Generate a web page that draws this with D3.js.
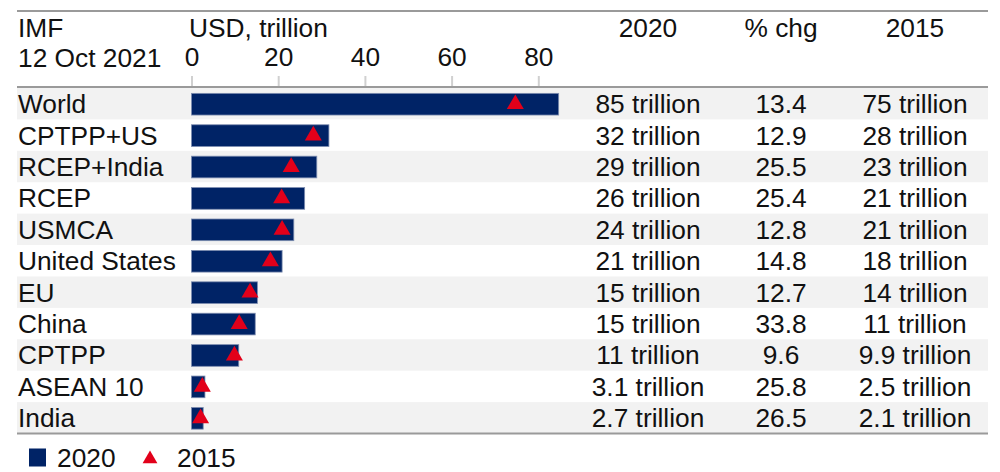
<!DOCTYPE html>
<html><head><meta charset="utf-8">
<script src="https://cdn.jsdelivr.net/npm/d3@7"></script>
<style>
html,body{margin:0;padding:0;background:#fff;}
svg{display:block;font-family:"Liberation Sans",Arial,sans-serif;}
</style></head>
<body><svg id="chart" width="1000" height="472"></svg>
<script>
const categories = ["World","CPTPP+US","RCEP+India","RCEP","USMCA","United States","EU","China","CPTPP","ASEAN 10","India"];
const gdp2020 = [84.7,31.7,28.9,26.1,23.6,20.9,15.2,14.7,10.9,3.1,2.7];
const gdp2015 = [74.7,28.1,23.0,20.8,20.9,18.2,13.5,11.0,9.9,2.5,2.1];
const label2020 = ["85 trillion","32 trillion","29 trillion","26 trillion","24 trillion","21 trillion","15 trillion","15 trillion","11 trillion","3.1 trillion","2.7 trillion"];
const pctChg = [13.4,12.9,25.5,25.4,12.8,14.8,12.7,33.8,9.6,25.8,26.5];
const label2015 = ["75 trillion","28 trillion","23 trillion","21 trillion","21 trillion","18 trillion","14 trillion","11 trillion","9.9 trillion","2.5 trillion","2.1 trillion"];
const axisTicks = [0,20,40,60,80];
const headerSource = ["IMF","12 Oct 2021"];
const unitLabel = "USD, trillion";
const columnHeaders = ["2020","% chg","2015"];
const legendItems = ["2020","2015"];

const NAVY = "#002366", RED = "#e2001a", BAND = "#f2f2f2", RULE = "#9a9a9a";
const FS = 26.3;
const svg = d3.select("#chart");
const left = 17, right = 988;
const rowsTop = 88, rowsBottom = 433.5;

const x = d3.scaleLinear().domain([0,80]).range([191.5,538.3]);
const y = d3.scaleBand().domain(categories).range([rowsTop,rowsBottom]).paddingInner(0).paddingOuter(0);
const colX = [648,781,915];

const data = categories.map((c,i)=>({c,i,v20:gdp2020[i],v15:gdp2015[i],l20:label2020[i],p:pctChg[i],l15:label2015[i]}));

// row bands
svg.append("g").selectAll("rect").data(data.filter(d=>d.i%2===0)).join("rect")
  .attr("x",left).attr("width",right-left)
  .attr("y",d=>y(d.c)).attr("height",y.bandwidth())
  .attr("fill",BAND);

// rules
svg.append("line").attr("x1",left).attr("x2",right).attr("y1",11).attr("y2",11).attr("stroke",RULE).attr("stroke-width",2);
svg.append("line").attr("x1",left).attr("x2",right).attr("y1",rowsTop-1).attr("y2",rowsTop-1).attr("stroke",RULE).attr("stroke-width",2);
svg.append("line").attr("x1",left).attr("x2",right).attr("y1",rowsBottom).attr("y2",rowsBottom).attr("stroke",RULE).attr("stroke-width",2);

// header text
const txt = (sel)=>sel.attr("font-size",FS).attr("fill","#111");
txt(svg.append("text").attr("x",18).attr("y",37).text(headerSource[0]));
txt(svg.append("text").attr("x",18).attr("y",67).text(headerSource[1]));
txt(svg.append("text").attr("x",189).attr("y",37).text(unitLabel));
columnHeaders.forEach((h,k)=>{
  txt(svg.append("text").attr("x",colX[k]).attr("y",37).attr("text-anchor","middle").text(h));
});

// axis
const axis = d3.axisTop(x).tickValues(axisTicks).tickSize(10).tickPadding(10).tickFormat(d3.format("d"));
const ag = svg.append("g").attr("transform",`translate(0,${rowsTop-2})`).call(axis);
ag.select(".domain").remove();
ag.selectAll(".tick line").attr("stroke","#d0d0d0").attr("stroke-width",2);
ag.selectAll(".tick text").attr("font-size",FS).attr("fill","#111").attr("font-family","Liberation Sans, Arial, sans-serif").attr("dy","0");

// category labels
svg.append("g").selectAll("text").data(data).join("text")
  .attr("x",18).attr("y",d=>y(d.c)+y.bandwidth()/2+9.5)
  .attr("font-size",FS).attr("fill","#111").text(d=>d.c);

// bars
const bh = y.bandwidth()*0.69;
svg.append("g").selectAll("rect").data(data).join("rect")
  .attr("x",x(0)).attr("width",d=>x(d.v20)-x(0))
  .attr("y",d=>y(d.c)+(y.bandwidth()-bh)/2+0.5).attr("height",bh)
  .attr("fill",NAVY).attr("stroke","#7d8db0").attr("stroke-width",0.8);

// triangles
const tri = d3.symbol().type(d3.symbolTriangle).size(125);
svg.append("g").selectAll("path").data(data).join("path")
  .attr("d",tri)
  .attr("transform",d=>`translate(${x(d.v15)},${y(d.c)+y.bandwidth()/2+0.5})`)
  .attr("fill",RED);

// table columns
const cols = [d=>d.l20, d=>d3.format(".1f")(d.p), d=>d.l15];
cols.forEach((f,k)=>{
  svg.append("g").selectAll("text").data(data).join("text")
    .attr("x",colX[k]).attr("y",d=>y(d.c)+y.bandwidth()/2+9.5)
    .attr("text-anchor","middle").attr("font-size",FS).attr("fill","#111").text(f);
});

// legend
const ly = 457.5;
svg.append("rect").attr("x",29).attr("y",ly-9).attr("width",17).attr("height",18).attr("fill",NAVY);
txt(svg.append("text").attr("x",57).attr("y",ly+9).text(legendItems[0]));
svg.append("path").attr("d",d3.symbol().type(d3.symbolTriangle).size(95)).attr("transform",`translate(150,${ly+1.5})`).attr("fill",RED);
txt(svg.append("text").attr("x",177).attr("y",ly+9).text(legendItems[1]));
</script></body></html>
